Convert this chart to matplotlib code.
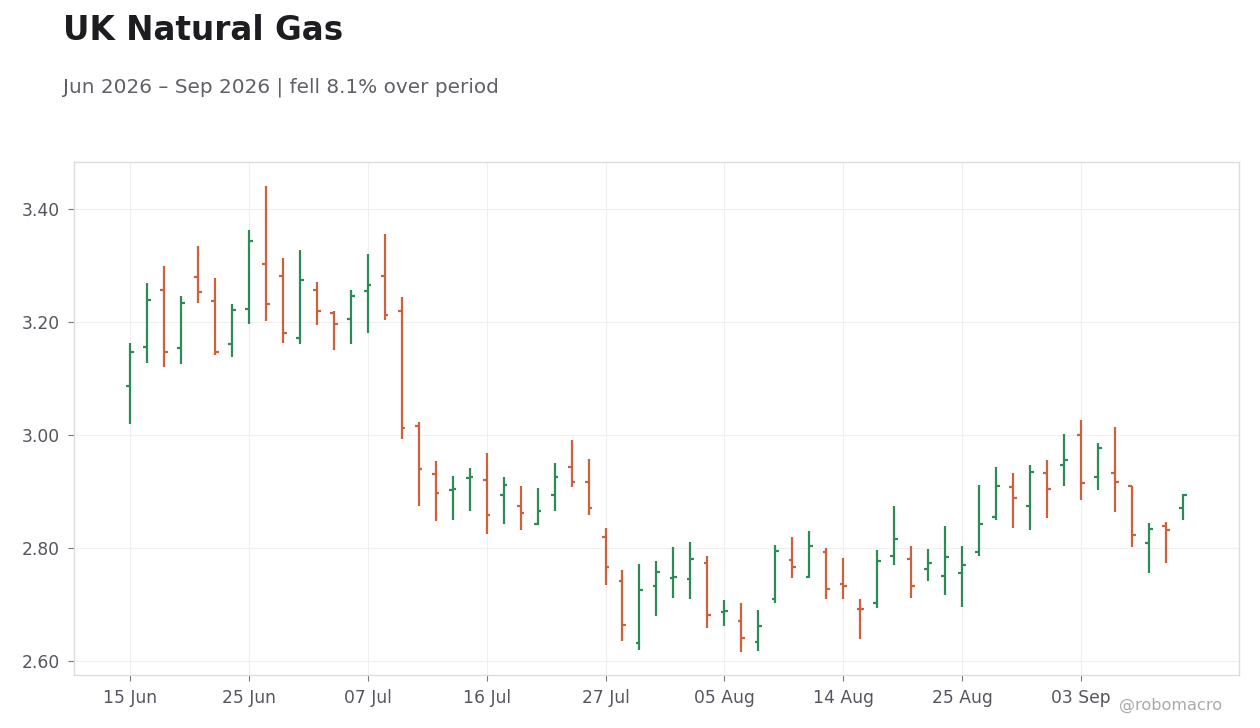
import os
import matplotlib
matplotlib.use("Agg")
import matplotlib.pyplot as plt
from matplotlib import font_manager as fm
import numpy as np

ttf_dir = os.path.join(matplotlib.get_data_path(), "fonts", "ttf")
for fn in ("DejaVuSans.ttf", "DejaVuSans-Bold.ttf"):
    p = os.path.join(ttf_dir, fn)
    if os.path.exists(p):
        fm.fontManager.addfont(p)
plt.rcParams["font.family"] = ["DejaVu Sans"]
plt.rcParams["font.sans-serif"] = ["DejaVu Sans"]

opens = [3.087, 3.156, 3.257, 3.154, 3.280, 3.237, 3.161, 3.223, 3.303, 3.282,
         3.172, 3.257, 3.215, 3.205, 3.255, 3.282, 3.219, 3.016, 2.931, 2.903,
         2.924, 2.921, 2.894, 2.875, 2.843, 2.893, 2.944, 2.916, 2.819, 2.742,
         2.632, 2.733, 2.747, 2.745, 2.774, 2.687, 2.671, 2.634, 2.710, 2.779,
         2.749, 2.793, 2.736, 2.692, 2.703, 2.786, 2.781, 2.763, 2.751, 2.755,
         2.793, 2.855, 2.907, 2.875, 2.932, 2.947, 2.999, 2.926, 2.932, 2.909,
         2.809, 2.839, 2.870]
highs = [3.163, 3.268, 3.299, 3.246, 3.335, 3.278, 3.232, 3.363, 3.441, 3.313,
         3.327, 3.271, 3.219, 3.256, 3.320, 3.355, 3.244, 3.022, 2.954, 2.927,
         2.942, 2.968, 2.926, 2.910, 2.906, 2.950, 2.991, 2.958, 2.835, 2.761,
         2.772, 2.777, 2.802, 2.811, 2.785, 2.708, 2.703, 2.690, 2.805, 2.819,
         2.830, 2.799, 2.782, 2.710, 2.796, 2.874, 2.804, 2.798, 2.839, 2.804,
         2.912, 2.943, 2.933, 2.947, 2.956, 3.002, 3.027, 2.986, 3.014, 2.909,
         2.844, 2.846, 2.896]
lows = [3.019, 3.128, 3.121, 3.126, 3.234, 3.142, 3.137, 3.197, 3.202, 3.163,
        3.160, 3.195, 3.151, 3.160, 3.181, 3.204, 2.992, 2.875, 2.848, 2.850,
        2.866, 2.824, 2.843, 2.832, 2.840, 2.866, 2.907, 2.859, 2.735, 2.636,
        2.620, 2.680, 2.712, 2.710, 2.659, 2.661, 2.616, 2.618, 2.703, 2.746,
        2.747, 2.710, 2.710, 2.639, 2.693, 2.770, 2.712, 2.742, 2.717, 2.696,
        2.786, 2.850, 2.836, 2.832, 2.852, 2.910, 2.885, 2.903, 2.864, 2.801,
        2.755, 2.773, 2.850]
closes = [3.147, 3.239, 3.146, 3.234, 3.253, 3.147, 3.221, 3.343, 3.232, 3.181,
          3.274, 3.220, 3.196, 3.246, 3.266, 3.212, 3.012, 2.940, 2.897, 2.905,
          2.925, 2.858, 2.912, 2.861, 2.866, 2.926, 2.917, 2.871, 2.767, 2.663,
          2.726, 2.758, 2.748, 2.781, 2.681, 2.689, 2.641, 2.662, 2.795, 2.766,
          2.804, 2.727, 2.733, 2.691, 2.777, 2.815, 2.733, 2.774, 2.783, 2.770,
          2.843, 2.909, 2.888, 2.935, 2.905, 2.956, 2.914, 2.976, 2.917, 2.823,
          2.834, 2.832, 2.893]
tick_labels = ["15 Jun", "25 Jun", "07 Jul", "16 Jul", "27 Jul",
               "05 Aug", "14 Aug", "25 Aug", "03 Sep"]
y_ticks = [2.60, 2.80, 3.00, 3.20, 3.40]

UP = "#2e8b57"
DOWN = "#cc613d"

fig = plt.figure(figsize=(12.6, 7.28), dpi=100)
ax = fig.add_axes([0.0587, 0.0728, 0.9246, 0.7047])

o = np.array(opens); h = np.array(highs); l = np.array(lows); c = np.array(closes)
x = np.arange(len(o))
cols = [UP if cc >= oo else DOWN for oo, cc in zip(o, c)]
tw = 0.22
ax.vlines(x, l, h, colors=cols, linewidth=1.6, zorder=3)
ax.hlines(o, x - tw, x, colors=cols, linewidth=1.6, zorder=3)
ax.hlines(c, x, x + tw, colors=cols, linewidth=1.6, zorder=3)

ax.set_xlim(-3.3, len(o) - 1 + 3.3)
ax.set_ylim(2.575, 3.483)
ax.set_xticks(np.arange(0, len(o), 7)[:len(tick_labels)])
ax.set_xticklabels(tick_labels)
ax.set_yticks(y_ticks)
ax.set_yticklabels([f"{v:.2f}" for v in y_ticks])
ax.grid(True, color="#efefef", linewidth=0.8, zorder=0)
ax.set_axisbelow(True)
for s in ax.spines.values():
    s.set_color("#dddddd")
    s.set_linewidth(1.0)
ax.tick_params(axis="both", colors="#555560", labelsize=12.3, length=4,
               width=0.8, pad=6)
ax.tick_params(axis="both", color="#777777")

fig.text(0.05, 0.945, "UK Natural Gas", fontsize=23.5, fontweight="bold",
         color="#1c1c21", va="baseline", ha="left")
fig.text(0.05, 0.8736, "Jun 2026 \u2013 Sep 2026 | fell 8.1% over period",
         fontsize=14.4, color="#5f5f66", va="baseline", ha="left")
fig.text(0.970, 0.025, "@robomacro", fontsize=11.6, color="#aaaaaa",
         va="baseline", ha="right")

fig.savefig("out.png", dpi=100)
